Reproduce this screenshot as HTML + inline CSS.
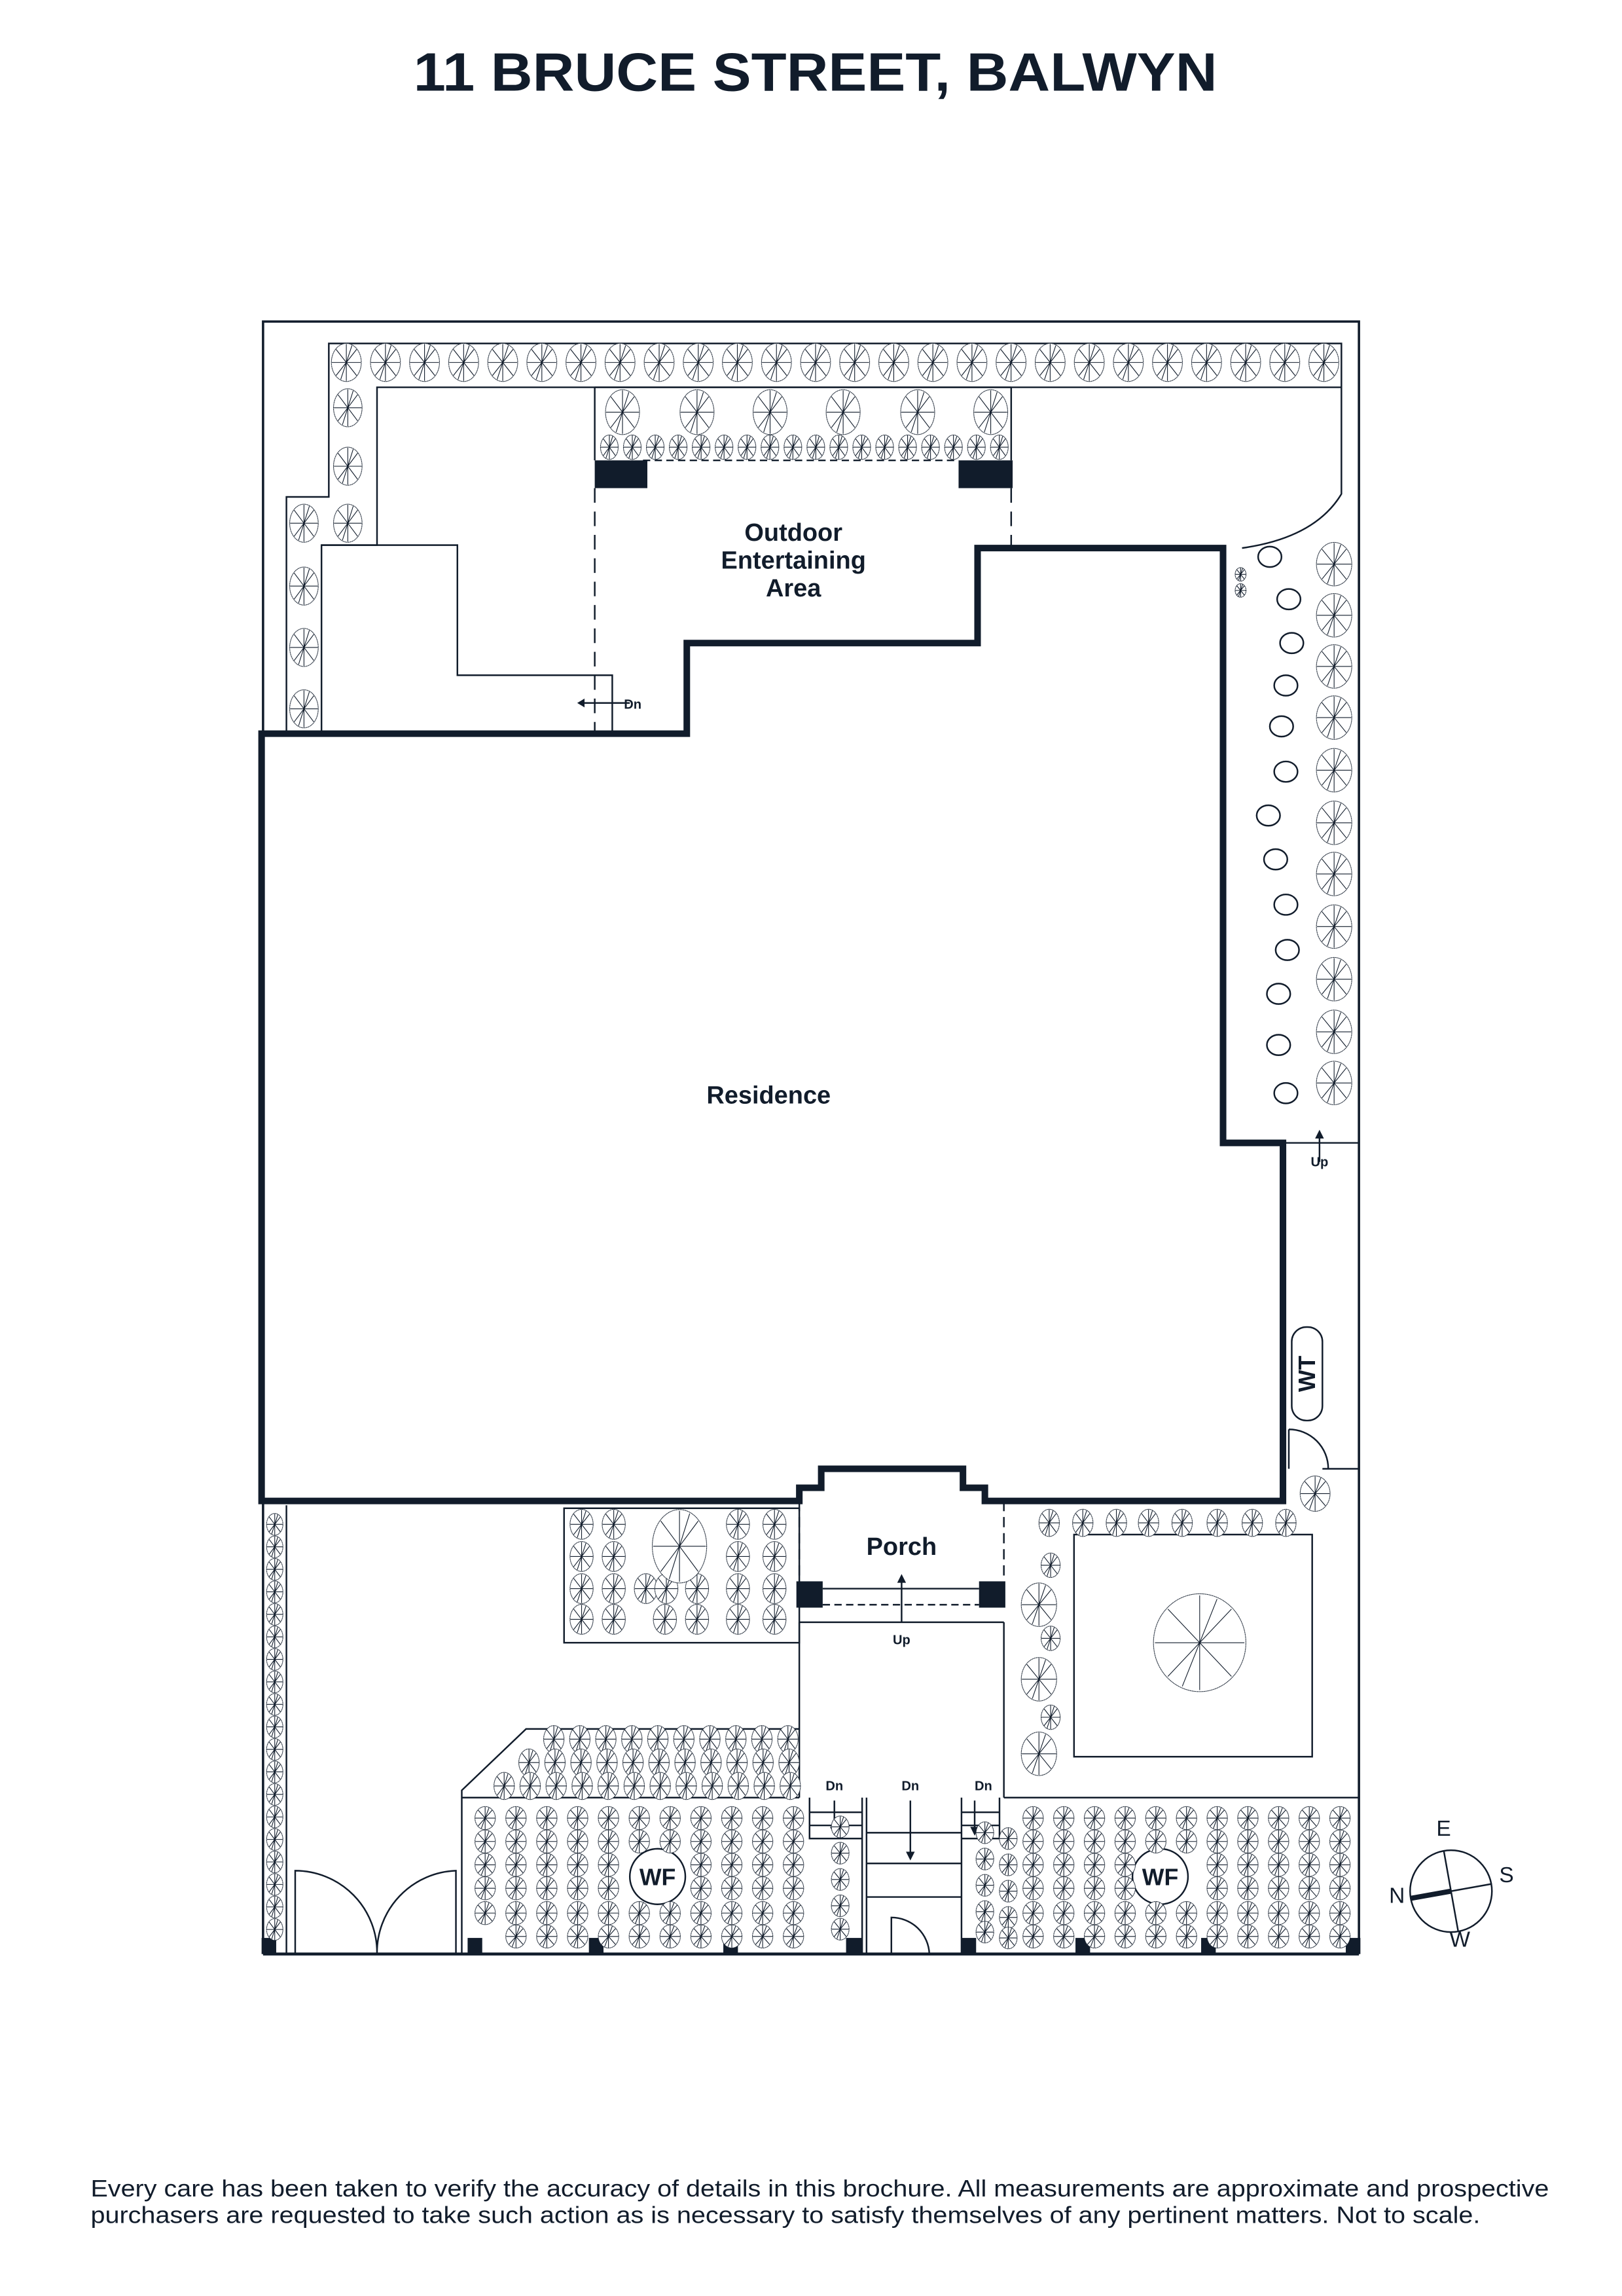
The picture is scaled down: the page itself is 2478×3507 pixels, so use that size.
<!DOCTYPE html>
<html><head><meta charset="utf-8"><style>
html,body{margin:0;padding:0;background:#fff}
svg{display:block}
text{font-family:"Liberation Sans",Arial,sans-serif;fill:#111c2b}
</style></head><body>
<svg id="s" xmlns="http://www.w3.org/2000/svg" width="2478" height="3507" viewBox="0 0 1110 1571">
<defs>
<symbol id="t" viewBox="-10 -10 20 20" overflow="visible" preserveAspectRatio="none">
<g fill="#fff" stroke="#111c2b" stroke-width="1.1" vector-effect="non-scaling-stroke">
<circle r="9.3" stroke-dasharray="1.2 0.4" vector-effect="non-scaling-stroke"/>
<path d="M0 0L0 -9M0 0L6.4 -6.4M0 0L9 0M0 0L6.4 6.4M0 0L0 9M0 0L-6.4 6.4M0 0L-9 0M0 0L-6.4 -6.4M0 0L3.5 -8.3M0 0L-3.5 8.3" vector-effect="non-scaling-stroke"/>
</g>
</symbol>
</defs>
<rect width="1110" height="1571" fill="#fff"/>
<text x="283" y="62" font-size="37" font-weight="bold" textLength="550" lengthAdjust="spacingAndGlyphs">11 BRUCE STREET, BALWYN</text>

<g fill="none" stroke="#111c2b" stroke-width="1.1">
<path d="M180 1337V220H930V1337" stroke-width="1.6"/>
<path d="M196 500V340H225V235H918V338Q900 368 850 375"/>
<path d="M220 500V373H258V265H918"/>
<path d="M220 373H313V462H419V502"/>
<path d="M407 265V315M692 265V315M407 265H692"/>
<path d="M440 315H656" stroke-dasharray="5 3"/>
<path d="M407 334V502M692 334V375" stroke-dasharray="10 6"/>
<path d="M878 782H930"/>
<rect x="884" y="908" width="21" height="64" rx="10"/>
<path d="M882 1005V978M882 978A27 27 0 0 1 909 1005M905 1005H930"/>
<path d="M547 1027V1082M687 1027V1082" stroke-dasharray="7 4"/>
<path d="M563 1087H670M547 1110H687"/>
<path d="M563 1098H670" stroke-dasharray="5 3"/>
<path d="M547 1110V1230M687 1110V1230"/>
<rect x="386" y="1032" width="161" height="92"/>
<rect x="735" y="1050" width="163" height="152"/>
<path d="M196 1030V1337"/>
<path d="M547 1183H360L316 1225V1337M316 1230H547M687 1230H930"/>
<path d="M554 1230V1258H590M554 1240H590M554 1249H590M590 1230V1337M593 1230V1337M658 1230V1337M658 1258H684V1230M658 1240H684M658 1249H684M593 1254H658M593 1275H658M593 1298H658"/>
<path d="M202 1337V1280A56 56 0 0 1 258 1337M312 1337V1280A56 56 0 0 0 258 1337"/>
<path d="M610 1337V1312A26 26 0 0 1 636 1337"/>
<path d="M180 1337H930" stroke-width="2"/>
<circle cx="450" cy="1284" r="19" fill="#fff"/>
<circle cx="794" cy="1284" r="19" fill="#fff"/>
<path d="M431 481H400M903 795V776M617 1110V1080M571 1232V1253M623 1232V1270M667 1232V1253"/>
</g>
<g fill="#111c2b">
<path d="M400 478L395 481L400 484ZM900 779L903 773L906 779ZM614 1083L617 1077L620 1083ZM568 1250L571 1256L574 1250ZM620 1267L623 1273L626 1267ZM664 1250L667 1256L670 1250Z"/>
<rect x="407" y="315" width="36" height="19"/><rect x="656" y="315" width="37" height="19"/>
<rect x="545" y="1082" width="18" height="18"/><rect x="670" y="1082" width="18" height="18"/>
<rect x="179" y="1326" width="10" height="11"/><rect x="320" y="1326" width="10" height="11"/><rect x="403" y="1326" width="10" height="11"/><rect x="495" y="1326" width="10" height="11"/><rect x="579" y="1326" width="11" height="11"/><rect x="658" y="1326" width="10" height="11"/><rect x="736" y="1326" width="10" height="11"/><rect x="822" y="1326" width="10" height="11"/><rect x="921" y="1326" width="10" height="11"/>
</g>
<path d="M179 502H470V440H669V375H837V782H878V1027H674V1018H659V1005H562V1018H547V1027H179Z" fill="none" stroke="#111c2b" stroke-width="4.5"/>
<g id="trees"></g>
<g fill="none" stroke="#111c2b" stroke-width="1.1" id="ovals"></g>

<text x="543" y="370" text-anchor="middle" font-size="17" font-weight="bold">Outdoor</text>
<text x="543" y="389" text-anchor="middle" font-size="17" font-weight="bold">Entertaining</text>
<text x="543" y="408" text-anchor="middle" font-size="17" font-weight="bold">Area</text>
<text x="526" y="755" text-anchor="middle" font-size="17" font-weight="bold">Residence</text>
<text x="617" y="1064" text-anchor="middle" font-size="17" font-weight="bold">Porch</text>
<text x="427" y="485" font-size="9" font-weight="bold">Dn</text>
<text x="903" y="798" text-anchor="middle" font-size="9" font-weight="bold">Up</text>
<text x="617" y="1125" text-anchor="middle" font-size="9" font-weight="bold">Up</text>
<text x="571" y="1225" text-anchor="middle" font-size="9" font-weight="bold">Dn</text>
<text x="623" y="1225" text-anchor="middle" font-size="9" font-weight="bold">Dn</text>
<text x="673" y="1225" text-anchor="middle" font-size="9" font-weight="bold">Dn</text>
<text x="450" y="1290" text-anchor="middle" font-size="16" font-weight="bold">WF</text>
<text x="794" y="1290" text-anchor="middle" font-size="16" font-weight="bold">WF</text>
<text transform="translate(900 940) rotate(-90)" text-anchor="middle" font-size="16" font-weight="bold">WT</text>

<circle cx="993" cy="1294" r="28" fill="none" stroke="#111c2b" stroke-width="1.1"/>
<path d="M988 1266L998 1322M965 1299L1021 1289" stroke="#111c2b" stroke-width="1.1"/>
<path d="M965 1299L993 1294" stroke="#111c2b" stroke-width="3.5"/>
<text x="988" y="1256" text-anchor="middle" font-size="15">E</text>
<text x="1031" y="1288" text-anchor="middle" font-size="15">S</text>
<text x="999" y="1332" text-anchor="middle" font-size="15">W</text>
<text x="956" y="1302" text-anchor="middle" font-size="15">N</text>

<text x="62" y="1503" font-size="16" textLength="998" lengthAdjust="spacingAndGlyphs">Every care has been taken to verify the accuracy of details in this brochure. All measurements are approximate and prospective</text>
<text x="62" y="1521" font-size="16" textLength="951" lengthAdjust="spacingAndGlyphs">purchasers are requested to take such action as is necessary to satisfy themselves of any pertinent matters. Not to scale.</text>
</svg>
<script>
var NS="http://www.w3.org/2000/svg",g=document.getElementById("trees"),ov=document.getElementById("ovals");
function T(x,y,w,h){var u=document.createElementNS(NS,"use");u.setAttribute("href","#t");u.setAttributeNS("http://www.w3.org/1999/xlink","xlink:href","#t");u.setAttribute("x",x-w/2);u.setAttribute("y",y-h/2);u.setAttribute("width",w);u.setAttribute("height",h);g.appendChild(u);}
var i,j;
for(i=0;i<26;i++)T(237+i*26.76,248,22,28);
[[238,279],[238,319],[238,358],[208,358],[208,401],[208,443],[208,485]].forEach(function(p){T(p[0],p[1],21,28)});
[426,477,527,577,628,678].forEach(function(x){T(x,282,25,33)});
for(i=0;i<18;i++)T(417+i*15.7,306,13,18);
[386,421,456,491,527,563,598,634,670,706,741].forEach(function(y){T(913,y,26,32)});
T(849,393,8,10);T(849,404,8,10);
[[869,381],[882,410],[884,440],[880,469],[877,497],[880,528],[868,558],[873,588],[880,619],[881,650],[875,680],[875,715],[880,748]].forEach(function(p){var e=document.createElementNS(NS,"ellipse");e.setAttribute("cx",p[0]);e.setAttribute("cy",p[1]);e.setAttribute("rx",8);e.setAttribute("ry",7);ov.appendChild(e);});
for(i=0;i<19;i++)T(188,1043+i*15.4,12,16);
[1043,1065].forEach(function(y){[398,420,505,530].forEach(function(x){T(x,y,17,22)})});
[398,420,442,456,477,505,530].forEach(function(x){T(x,1087,17,22)});
[398,420,455,477,505,530].forEach(function(x){T(x,1108,17,22)});
T(465,1058,40,54);
[718,741,764,786,809,833,857,880].forEach(function(x){T(x,1042,15,20)});
T(719,1071,14,18);T(711,1098,26,32);T(719,1121,14,18);T(711,1149,26,32);T(719,1175,14,18);T(711,1200,26,32);
T(900,1022,22,26);
T(821,1124,68,72);
for(i=0;i<10;i++)T(379+i*17.8,1190,15,20);
for(i=0;i<11;i++)T(362+i*17.8,1206,15,20);
for(i=0;i<12;i++)T(345+i*17.8,1222,15,20);
var rows=[1244,1260,1276,1292,1309,1325];
rows.forEach(function(y,r){for(i=0;i<11;i++){var x=332+i*21.1;if(r==5&&i==0)continue;if(Math.hypot(x-450,y-1284)<24)continue;T(x,y,15,17);}});
[1250,1268,1286,1304,1320].forEach(function(y){T(575,y,13,16)});
rows.forEach(function(y,r){for(i=0;i<11;i++){var x=707+i*21;if(Math.hypot(x-794,y-1284)<24)continue;T(x,y,15,17);}});
[1254,1272,1290,1308,1322].forEach(function(y){T(674,y,13,16);T(690,y+4,13,16)});
</script>
</body></html>
